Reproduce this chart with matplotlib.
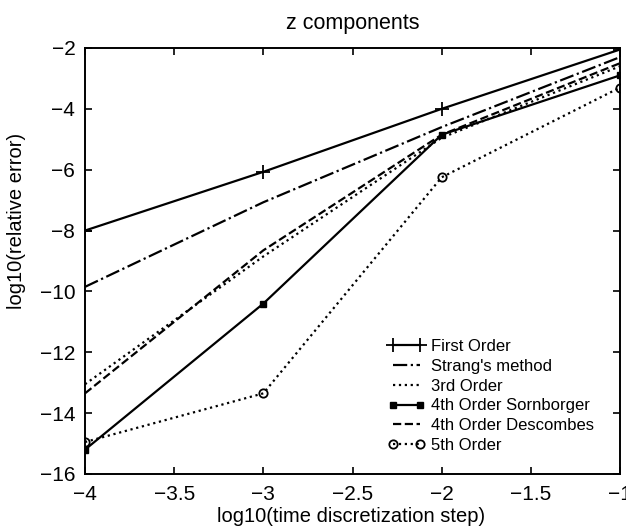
import matplotlib
matplotlib.use('Agg')
import matplotlib.pyplot as plt
from matplotlib.legend_handler import HandlerLine2D

plt.rcParams['font.family'] = ['Liberation Sans', 'DejaVu Sans']

steps = [-4, -3, -2, -1]

first_order = [-8.0, -6.07, -4.0, -2.05]
strang = [-9.85, -7.07, -4.6, -2.3]
third_order = [-13.05, -8.85, -4.95, -2.6]
fourth_sornborger = [-15.2, -10.4, -4.85, -2.9]
fourth_descombes = [-13.35, -8.65, -4.85, -2.5]
fifth_order = [-14.95, -13.35, -6.25, -3.3]

xticks = [-4, -3.5, -3, -2.5, -2, -1.5, -1]
yticks = list(range(-16, -1, 2))

fig = plt.figure(figsize=(6.26, 5.28), dpi=100)
ax = fig.add_axes([0.1358, 0.1023, 0.8546, 0.8068])

lines = []
lines += ax.plot(steps, first_order, 'k-', marker='+', markersize=10, mew=1.3, lw=1.6,
                 label='First Order')
lines += ax.plot(steps, strang, 'k-.', lw=1.6, label="Strang's method")
lines += ax.plot(steps, third_order, 'k:', lw=1.6, label='3rd Order')
lines += ax.plot(steps, fourth_sornborger, 'k-', marker='s', markersize=4, lw=1.6,
                 label='4th Order Sornborger')
lines += ax.plot(steps, fourth_descombes, 'k--', lw=1.6, label='4th Order Descombes')
lines += ax.plot(steps, fifth_order, 'k:', marker='o', markersize=6, mfc='none', mew=1.3,
                 lw=1.6, label='5th Order')

ax.set_xlim(-4, -1)
ax.set_ylim(-16, -2)
ax.set_xticks(xticks)
ax.set_xticklabels([('%g' % v).replace('-', '\u2212') for v in xticks])
ax.set_yticks(yticks)
ax.set_yticklabels([('%d' % v).replace('-', '\u2212') for v in yticks])
ax.tick_params(direction='in', labelsize=15, length=5, width=1.2, top=True, right=True)
ax.tick_params(axis='x', pad=8)
ax.tick_params(axis='y', pad=7)
for s in ax.spines.values():
    s.set_linewidth(1.4)

ax.set_title('z components', fontsize=15.5, pad=14)
ax.set_xlabel('log10(time discretization step)', fontsize=14.5)
ax.set_ylabel('log10(relative error)', fontsize=14.5)
ax.xaxis.set_label_coords(0.497, -0.077)
ax.yaxis.set_label_coords(-0.11, 0.593)

ax.legend(loc='upper left', frameon=False, fontsize=12, handlelength=2.8,
          handletextpad=0.1, labelspacing=0.29, borderpad=0, borderaxespad=0,
          numpoints=2, bbox_to_anchor=(0.557, 0.317),
          handler_map={ln: HandlerLine2D(marker_pad=0.6) for ln in lines})

fig.savefig('out.png', dpi=100)
